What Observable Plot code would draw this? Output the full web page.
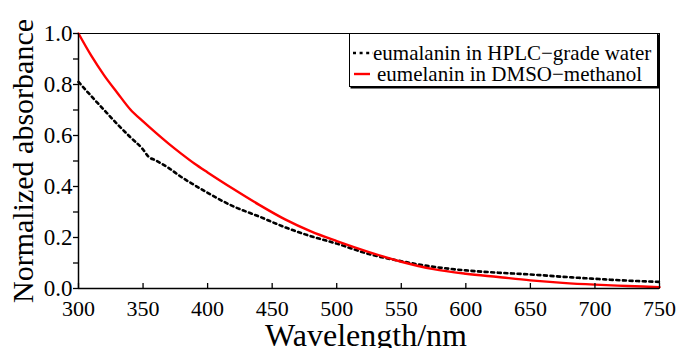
<!DOCTYPE html>
<html>
<head>
<meta charset="utf-8">
<script src="https://cdn.jsdelivr.net/npm/d3@7"></script>
<script src="https://cdn.jsdelivr.net/npm/@observablehq/plot@0.6"></script>
<style>
  html, body { margin: 0; padding: 0; background: #fff; }
  #wrap { position: relative; width: 677px; height: 348px; font-family: "Liberation Serif", "Times New Roman", serif; }
  #wrap svg text { font-family: "Liberation Serif", "Times New Roman", serif; }
  #legend { position: absolute; left: 349px; top: 33px; width: 307px; height: 52px; background: #fff;
            border: 1px solid #000; box-shadow: 1.5px 1.5px 0 #000; font-size: 21px; color: #000; }
  .row { position: absolute; left: 0; height: 20px; line-height: 20px; white-space: nowrap; }
  .row svg { position: absolute; left: 2px; top: 0; }
  .row span { position: absolute; }
</style>
</head>
<body>
<div id="wrap"></div>
<script>
// Data
const waterWl  = [300, 310, 320, 330, 340, 350, 354, 360, 370, 380, 390, 400, 420, 440, 460, 480, 500, 525, 550, 575, 600, 625, 650, 675, 700, 725, 750];
const waterAbs = [0.81, 0.754, 0.699, 0.645, 0.594, 0.545, 0.518, 0.502, 0.472, 0.436, 0.405, 0.375, 0.322, 0.282, 0.240, 0.205, 0.176, 0.135, 0.107, 0.085, 0.071, 0.062, 0.055, 0.046, 0.038, 0.031, 0.026];
const dmsoWl   = [300, 310, 320, 330, 340, 350, 360, 370, 380, 390, 400, 420, 440, 460, 480, 500, 525, 550, 575, 600, 625, 650, 675, 700, 725, 750];
const dmsoAbs  = [1.00, 0.912, 0.835, 0.768, 0.703, 0.655, 0.610, 0.567, 0.527, 0.489, 0.455, 0.390, 0.328, 0.271, 0.224, 0.186, 0.143, 0.105, 0.076, 0.058, 0.045, 0.032, 0.022, 0.015, 0.010, 0.005];
const seriesNames = ["eumalanin in HPLC\u2212grade water", "eumelanin in DMSO\u2212methanol"];
const xTicks = [300, 350, 400, 450, 500, 550, 600, 650, 700, 750];
const yTicks = [0, 0.2, 0.4, 0.6, 0.8, 1.0];
const yTickLabels = ["0.0", "0.2", "0.4", "0.6", "0.8", "1.0"];
const yMinorTicks = [0.1, 0.3, 0.5, 0.7, 0.9];
const xTitle = "Wavelength/nm";
const yTitle = "Normalized absorbance";

const water = waterWl.map((w, i) => ({w, a: waterAbs[i]}));
const dmso = dmsoWl.map((w, i) => ({w, a: dmsoAbs[i]}));

const serif = "Liberation Serif, Times New Roman, serif";

const chart = Plot.plot({
  width: 677,
  height: 348,
  marginLeft: 78,
  marginRight: 18,
  marginTop: 33,
  marginBottom: 60,
  style: "font-family: 'Liberation Serif', 'Times New Roman', serif; color: #000; background: #fff; overflow: visible;",
  x: {domain: [300, 750]},
  y: {domain: [0, 1]},
  marks: [
    Plot.frame({stroke: "#000", strokeWidth: 1}),
    Plot.lineY(water, {x: "w", y: "a", stroke: "#000", strokeWidth: 2.6, strokeDasharray: "3,3.6", curve: "monotone-x"}),
    Plot.lineY(dmso, {x: "w", y: "a", stroke: "#ff0000", strokeWidth: 2.4, curve: "monotone-x"}),
    Plot.ruleX([300], {stroke: "#000", strokeWidth: 1.5}),
    Plot.ruleY([0], {stroke: "#000", strokeWidth: 1.5}),
    Plot.axisY({ticks: yTicks, tickFormat: () => "", tickSize: 5, label: null, strokeWidth: 1.3}),
    Plot.axisY({ticks: yMinorTicks, tickFormat: () => "", tickSize: 5, label: null, strokeWidth: 1.3}),
    Plot.axisX({ticks: xTicks, tickFormat: () => "", tickSize: -5, label: null, strokeWidth: 1.3}),
    Plot.text(yTicks, {y: d => d, text: (d, i) => yTickLabels[i], frameAnchor: "left", dx: -6, textAnchor: "end", lineAnchor: "middle", fontSize: 23, fontFamily: serif, fill: "#000"}),
    Plot.text(xTicks, {x: d => d, text: d => String(d), frameAnchor: "bottom", dy: 20, textAnchor: "middle", lineAnchor: "middle", fontSize: 22, fontFamily: serif, fill: "#000"}),
    Plot.text([yTitle], {frameAnchor: "left", rotate: -90, dx: -55, fontSize: 30, fontFamily: serif, fill: "#000", lineAnchor: "middle", textAnchor: "middle"}),
    Plot.text([xTitle], {frameAnchor: "bottom", dy: 47, dx: -3, fontSize: 32, fontFamily: serif, fill: "#000", lineAnchor: "middle", textAnchor: "middle"})
  ]
});

const wrap = document.getElementById("wrap");
wrap.appendChild(chart);

const legend = document.createElement("div");
legend.id = "legend";
legend.innerHTML = `
  <div class="row" style="top:9px;width:100%">
    <svg width="22" height="20"><line x1="1" x2="21" y1="10" y2="10" stroke="#000" stroke-width="2.6" stroke-dasharray="3,3.6"/></svg>
    <span style="left:23px">${seriesNames[0]}</span>
  </div>
  <div class="row" style="top:30px;width:100%">
    <svg width="22" height="20"><line x1="2" x2="18" y1="10" y2="10" stroke="#ff0000" stroke-width="2.4"/></svg>
    <span style="left:27px">${seriesNames[1]}</span>
  </div>`;
wrap.appendChild(legend);
</script>
</body>
</html>
